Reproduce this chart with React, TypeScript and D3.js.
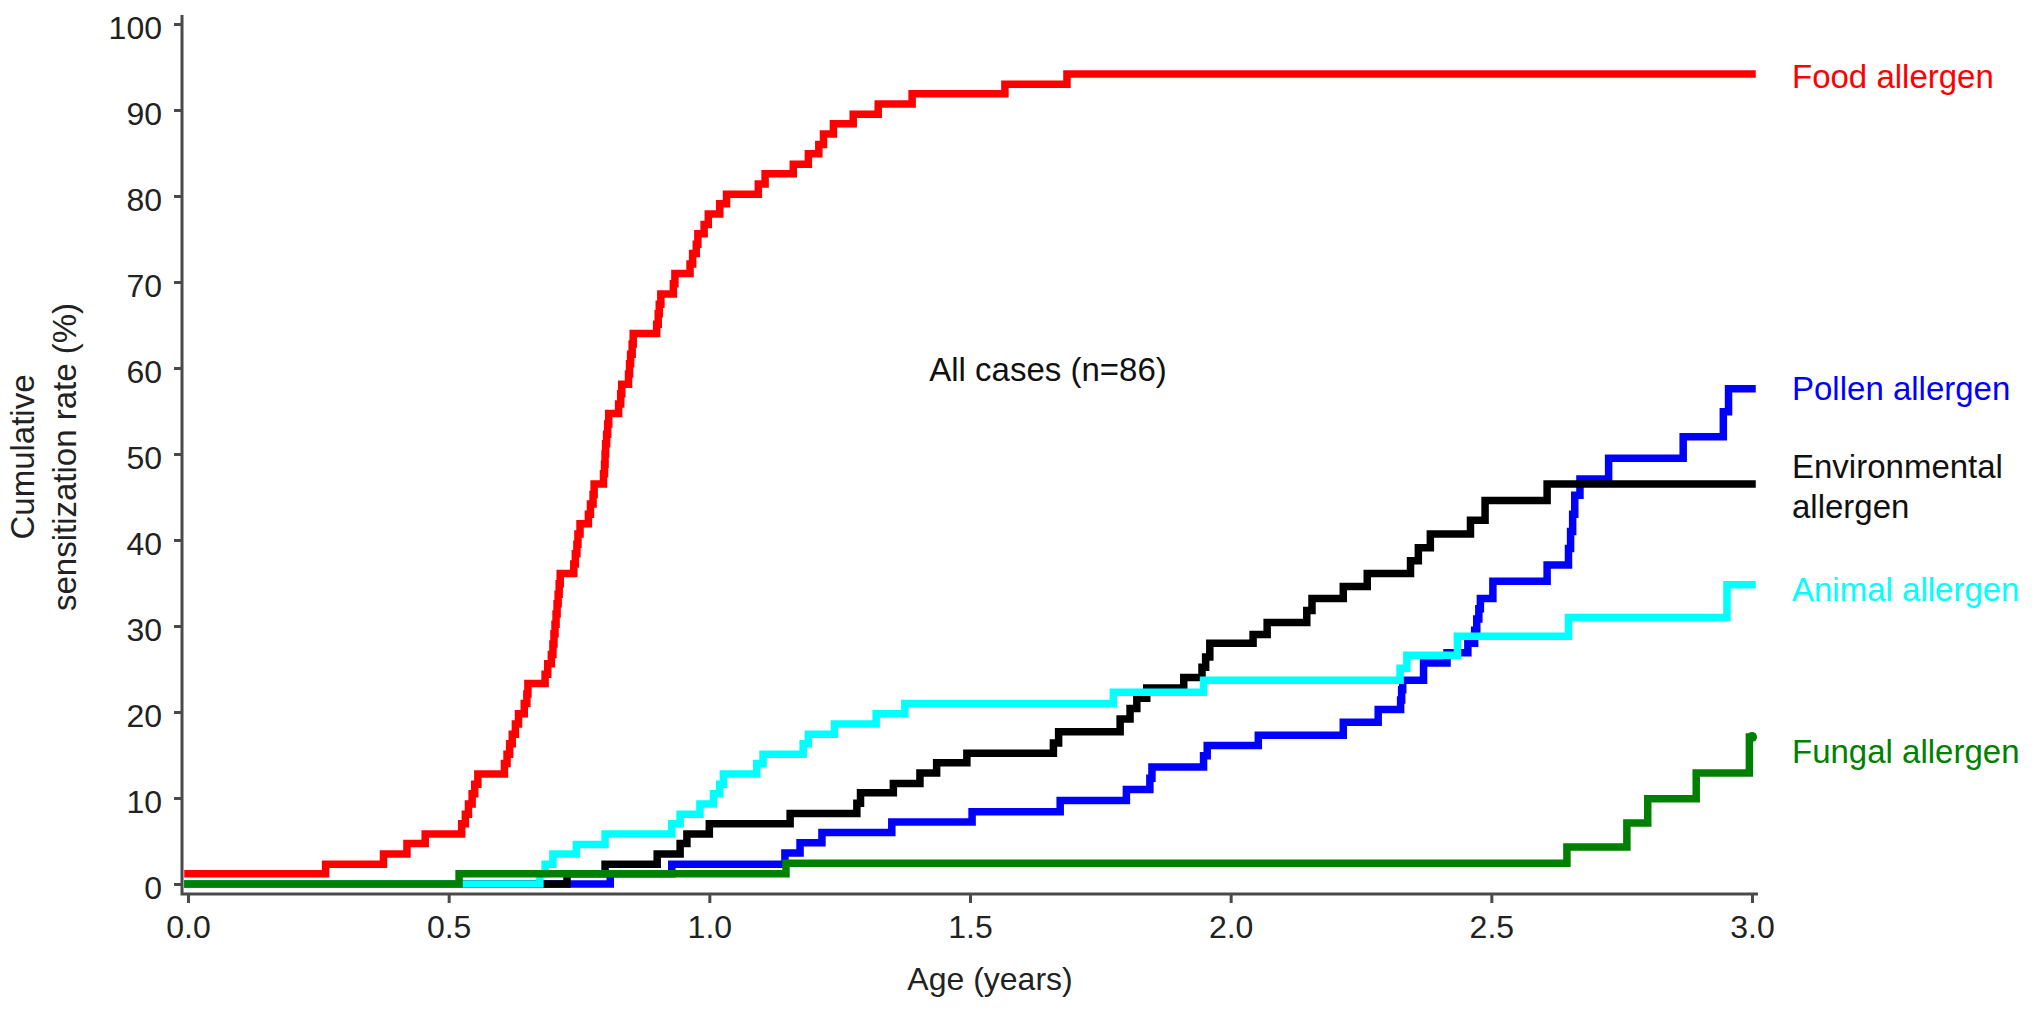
import React, { useEffect, useRef } from 'react';
import * as d3 from 'd3';

type Step = [number, number];

// [age (years), cumulative sensitization rate (%) after the step]
const foodSteps: Step[] = [
  [0, 1.2], [0.264, 2.3], [0.375, 3.5], [0.42, 4.7], [0.455, 5.8], [0.525, 7.0], [0.532, 8.1],
  [0.538, 9.3], [0.545, 10.5], [0.55, 11.6], [0.556, 12.8], [0.607, 14.0], [0.612, 15.1],
  [0.617, 16.3], [0.622, 17.4], [0.628, 18.6], [0.634, 19.8], [0.645, 21.0], [0.65, 22.1],
  [0.652, 23.3], [0.685, 24.4], [0.69, 25.6], [0.697, 26.7], [0.7, 27.9], [0.702, 29.1],
  [0.704, 30.2], [0.706, 31.4], [0.708, 32.6], [0.71, 33.7], [0.712, 34.9], [0.714, 36.1],
  [0.74, 37.2], [0.743, 38.4], [0.746, 39.5], [0.748, 40.7], [0.752, 41.9], [0.768, 43.0],
  [0.772, 44.2], [0.777, 45.3], [0.779, 46.5], [0.797, 47.7], [0.799, 48.8], [0.8, 50.0],
  [0.801, 51.2], [0.803, 52.3], [0.805, 53.5], [0.807, 54.7], [0.826, 55.8], [0.83, 57.0],
  [0.832, 58.1], [0.845, 59.3], [0.847, 60.5], [0.849, 61.6], [0.852, 62.8], [0.854, 64.0],
  [0.899, 65.1], [0.902, 66.3], [0.904, 67.4], [0.907, 68.6], [0.931, 69.8], [0.934, 71.0],
  [0.963, 72.1], [0.968, 73.3], [0.975, 74.4], [0.978, 75.6], [0.99, 76.7], [0.998, 77.9],
  [1.02, 79.1], [1.033, 80.2], [1.094, 81.4], [1.107, 82.6], [1.161, 83.7], [1.19, 84.9],
  [1.21, 86.0], [1.219, 87.2], [1.238, 88.4], [1.276, 89.5], [1.324, 90.7], [1.389, 91.9],
  [1.567, 93.0], [1.686, 94.2], [3.0, 94.2],
];

const pollenSteps: Step[] = [
  [0, 0], [0.81, 1.2], [0.928, 2.3], [1.145, 3.6], [1.174, 4.8], [1.216, 6.0], [1.35, 7.2],
  [1.504, 8.4], [1.673, 9.7], [1.8, 11.0], [1.845, 12.3], [1.849, 13.6], [1.948, 14.9],
  [1.955, 16.1], [2.053, 17.3], [2.216, 18.8], [2.283, 20.3], [2.326, 21.4], [2.328, 22.6],
  [2.33, 23.7], [2.37, 25.7], [2.415, 26.9], [2.455, 28.0], [2.468, 29.5], [2.472, 30.8],
  [2.476, 32.0], [2.479, 33.2], [2.503, 35.2], [2.607, 37.1], [2.648, 39.0], [2.652, 41.0],
  [2.656, 43.0], [2.66, 45.2], [2.67, 47.1], [2.725, 49.5], [2.868, 52.0], [2.945, 54.9],
  [2.955, 57.6], [3.0, 57.6],
];

const environmentalSteps: Step[] = [
  [0, 0], [0.727, 1.2], [0.8, 2.3], [0.9, 3.5], [0.944, 4.7], [0.957, 5.8], [1.0, 7.0],
  [1.155, 8.2], [1.283, 9.4], [1.29, 10.6], [1.353, 11.7], [1.404, 12.9], [1.436, 14.1],
  [1.494, 15.2], [1.66, 16.4], [1.67, 17.7], [1.788, 19.2], [1.807, 20.4], [1.82, 21.6],
  [1.839, 22.8], [1.91, 24.0], [1.945, 25.2], [1.952, 26.4], [1.96, 28.0], [2.043, 29.0],
  [2.07, 30.4], [2.146, 31.8], [2.156, 33.2], [2.216, 34.6], [2.262, 36.1], [2.345, 37.6],
  [2.36, 39.1], [2.383, 40.7], [2.46, 42.3], [2.488, 44.6], [2.607, 46.5], [3.0, 46.5],
];

const animalSteps: Step[] = [
  [0, 0], [0.675, 1.2], [0.685, 2.3], [0.7, 3.5], [0.745, 4.6], [0.8, 5.8], [0.928, 7.0],
  [0.944, 8.1], [0.982, 9.3], [1.008, 10.5], [1.02, 11.6], [1.027, 12.8], [1.091, 14.0],
  [1.103, 15.1], [1.18, 16.3], [1.19, 17.4], [1.24, 18.6], [1.32, 19.8], [1.375, 21.0],
  [1.775, 22.3], [1.948, 23.7], [2.325, 25.1], [2.338, 26.6], [2.435, 28.8], [2.648, 31.0],
  [2.952, 34.8], [3.0, 34.8],
];

const fungalSteps: Step[] = [
  [0, 0], [0.52, 1.2], [1.147, 2.4], [2.645, 4.3], [2.76, 7.1], [2.8, 9.9], [2.893, 12.9],
  [2.995, 17.1], [3.0, 17.1],
];

const yTicks = [0, 10, 20, 30, 40, 50, 60, 70, 80, 90, 100];
const xTicks = [0, 0.5, 1.0, 1.5, 2.0, 2.5, 3.0];

const FONT = '"Liberation Sans", Arial, Helvetica, sans-serif';

export default function App() {
  const ref = useRef<SVGSVGElement>(null);

  useEffect(() => {
    if (!ref.current) return;
    const svg = d3.select(ref.current);
    svg.selectAll('*').remove();

    const x = d3.scaleLinear().domain([0, 3]).range([188, 1752]);
    const y = d3.scaleLinear().domain([0, 100]).range([884, 24]);
    const axisColor = '#4a4a4a';

    // L-shaped frame a little outside the data range
    const x0 = x(-0.0115), x1 = x(3.0115);
    const y0 = y(-1.16), y1 = y(101.05);
    svg.append('path')
      .attr('d', `M${x0},${y1}V${y0}H${x1}`)
      .attr('fill', 'none')
      .attr('stroke', axisColor)
      .attr('stroke-width', 3);

    const yAxis = svg.append('g')
      .attr('transform', `translate(${x0},0)`)
      .call(d3.axisLeft(y).tickValues(yTicks).tickSize(8).tickPadding(12).tickFormat(d3.format('d')));
    yAxis.select('.domain').remove();
    yAxis.selectAll('line').attr('stroke', axisColor).attr('stroke-width', 3);
    yAxis.selectAll('text')
      .attr('dy', '0.45em')
      .attr('fill', '#222')
      .attr('font-size', 32)
      .attr('font-family', FONT);

    const xAxis = svg.append('g')
      .attr('transform', `translate(0,${y0})`)
      .call(d3.axisBottom(x).tickValues(xTicks).tickSize(9).tickPadding(12).tickFormat(d3.format('.1f')));
    xAxis.select('.domain').remove();
    xAxis.selectAll('line').attr('stroke', axisColor).attr('stroke-width', 3);
    xAxis.selectAll('text')
      .attr('fill', '#222')
      .attr('font-size', 32)
      .attr('font-family', FONT);

    const line = d3.line<Step>()
      .x(d => x(d[0]))
      .y(d => y(d[1]))
      .curve(d3.curveStepAfter);

    // drawing order: blue under black under cyan, green on top
    const series = [
      { steps: pollenSteps, color: '#0000ff' },
      { steps: environmentalSteps, color: '#000000' },
      { steps: animalSteps, color: '#00ffff' },
      { steps: foodSteps, color: '#ff0000' },
      { steps: fungalSteps, color: '#008000' },
    ];
    series.forEach(s => {
      svg.append('path')
        .attr('d', line(s.steps) || '')
        .attr('fill', 'none')
        .attr('stroke', s.color)
        .attr('stroke-width', 7.5)
        .attr('stroke-linejoin', 'miter')
        .attr('stroke-linecap', 'square');
    });

    const lastFungal = fungalSteps[fungalSteps.length - 1];
    svg.append('circle')
      .attr('cx', x(lastFungal[0]))
      .attr('cy', y(lastFungal[1]))
      .attr('r', 5)
      .attr('fill', '#008000');

    const text = (tx: number, ty: number, str: string, color = '#222', anchor = 'start', size = 33) =>
      svg.append('text')
        .attr('x', tx)
        .attr('y', ty)
        .attr('text-anchor', anchor)
        .attr('fill', color)
        .attr('font-size', size)
        .attr('font-family', FONT)
        .text(str);

    const lx = 1792;
    text(lx, 88, 'Food allergen', '#ff0000');
    text(lx, 400, 'Pollen allergen', '#0000ff');
    text(lx, 478, 'Environmental', '#111');
    text(lx, 518, 'allergen', '#111');
    text(lx, 601, 'Animal allergen', '#00ffff');
    text(lx, 763, 'Fungal allergen', '#008000');

    text(1048, 381, 'All cases (n=86)', '#111', 'middle');
    text(990, 990, 'Age (years)', '#222', 'middle', 32);

    const yTitle = svg.append('g')
      .attr('transform', `translate(0,457) rotate(-90)`);
    ['Cumulative', 'sensitization rate (%)'].forEach((s, i) => {
      yTitle.append('text')
        .attr('x', 0)
        .attr('y', 34 + i * 42)
        .attr('text-anchor', 'middle')
        .attr('fill', '#222')
        .attr('font-size', 33)
        .attr('font-family', FONT)
        .text(s);
    });
  }, []);

  return (
    <svg
      ref={ref}
      width={2032}
      height={1011}
      style={{ position: 'absolute', left: 0, top: 0, background: '#fff' }}
    />
  );
}
